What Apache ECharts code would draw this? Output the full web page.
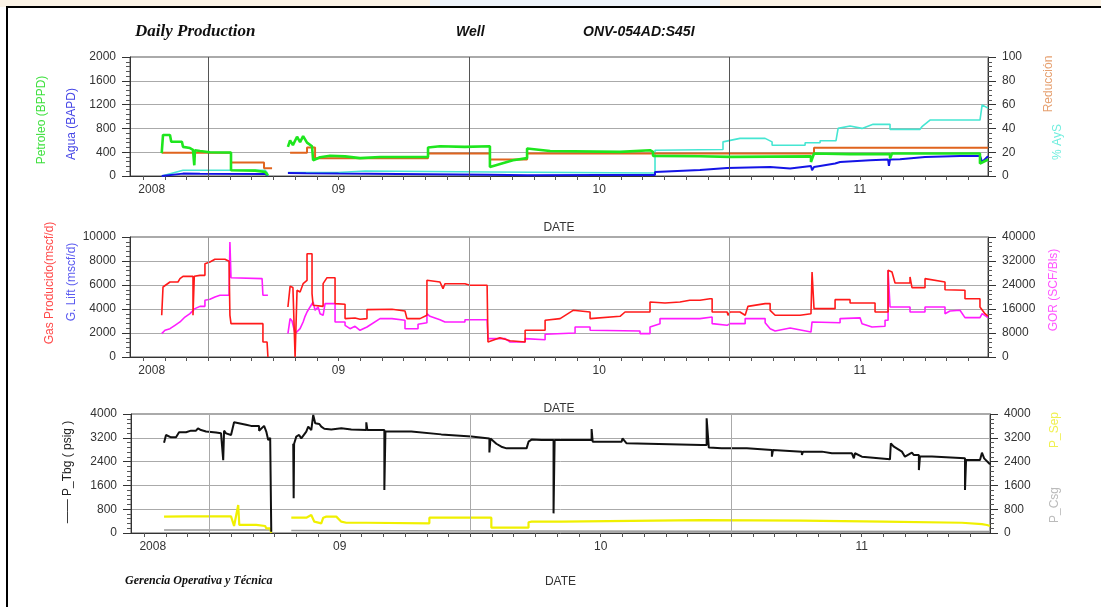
<!DOCTYPE html>
<html>
<head>
<meta charset="utf-8">
<title>Daily Production</title>
<script src="https://cdn.jsdelivr.net/npm/echarts@6/dist/echarts.min.js"></script>
<style>
  html, body { margin: 0; padding: 0; background: #fff; }
  #chart { width: 1101px; height: 607px; }
</style>
</head>
<body>
<div id="chart"></div>
<script>
// x = months counted from 1 Jan 2008
const xMin = 2.4, xMax = 41.9;
const monthTicks = [3,4,5,6,7,8,9,10,11,12,13,14,15,16,17,18,19,20,21,22,23,24,25,26,27,28,29,30,31,32,33,34,35,36,37,38,39,40,41];
const yearLabelAt = [3.4, 12, 24, 36];
const yearLabels = ['2008', '09', '10', '11'];
const midYear = [6, 18, 30];

// top panel
const petroleo = [[3.86,384],[3.92,690],[4.24,690],[4.30,575],[4.79,575],[4.84,490],[5.16,470],[5.30,440],[5.36,180],[5.39,434],[5.62,420],[6.08,400],[6.77,395],[7.05,395],[7.05,96],[8.16,90],[8.62,68],[8.71,68],[8.75,10],[9.3,'-'],
  [9.67,490],[9.77,600],[9.90,520],[10.09,660],[10.23,570],[10.37,670],[10.55,560],[10.78,500],[10.83,265],[11.15,315],[11.61,340],[12.30,330],[12.99,300],[13.91,320],[16.12,320],[16.12,480],[16.67,500],[17.82,490],[18.97,500],[18.97,152],[20.03,265],[20.68,300],[20.68,463],[21.74,420],[24.96,405],[26.34,434],[26.48,405],[26.48,338],[28.64,333],[30.02,321],[33.75,330],[33.75,236],[33.89,378],[35.55,367],[37.39,367],[37.39,294],[37.48,378],[41.53,378],[41.53,209],[41.90,277]];
const agua = [[3.86,0],[4.84,40],[5.62,37],[8.62,35],[8.71,30],[8.75,0],[9.3,'-'],
  [9.67,51],[10.5,45],[12.0,40],[16.12,30],[18.97,20],[20.68,12],[24.0,15],[26.57,15],[26.57,68],[28.64,100],[29.89,135],[31.87,152],[32.79,125],[33.75,169],[33.80,96],[33.89,150],[34.86,209],[35.09,236],[36.47,265],[37.30,277],[37.34,169],[37.39,277],[37.85,282],[39.00,321],[40.61,338],[41.53,338],[41.63,236],[41.90,333]];
const reduccion = [[3.86,19.5],[7.05,19.5],[7.05,11.3],[8.57,11.3],[8.57,6.5],[8.94,6.5],[9.3,'-'],
  [9.77,19.5],[10.55,19.5],[10.55,24],[10.92,24],[10.92,15],[16.12,15],[16.12,19],[18.97,19],[18.97,13.8],[20.68,13.8],[20.68,19],[33.89,19],[33.89,23.7],[41.90,23.7]];
const ays = [[3.86,0],[4.84,4.8],[8.62,4.8],[8.71,3],[8.75,0],[9.3,'-'],
  [9.67,2.9],[11.98,3],[11.98,4.2],[13.22,4.2],[13.31,2.9],[18.97,3.4],[18.97,2.5],[26.57,2.5],[26.57,21.7],[29.70,22.3],[29.70,28.7],[30.48,31.6],[31.64,31.6],[31.96,28.7],[31.96,25.9],[33.48,25.9],[33.48,27.9],[34.17,27.9],[34.17,29.6],[34.90,29.6],[35.00,40],[35.55,42],[36.10,40],[36.61,43.4],[37.39,43.4],[37.39,39.2],[38.77,39.2],[38.86,41.4],[39.23,47],[41.53,47],[41.63,59.7],[41.90,57]];

// middle panel
const gasProducido = [[3.86,3475],[3.92,5833],[4.24,6250],[4.61,6250],[4.70,6530],[4.84,6722],[5.30,6722],[5.30,3475],[5.36,6722],[5.62,6805],[5.85,6805],[5.85,7780],[6.08,7920],[6.31,8140],[6.77,8140],[6.96,7975],[7.00,7975],[7.00,3475],[7.05,2780],[8.52,2780],[8.52,1250],[8.71,1250],[8.75,0],[9.3,'-'],
  [9.67,4170],[9.77,5890],[9.90,5800],[10.00,0],[10.09,5560],[10.23,5420],[10.37,6110],[10.55,6390],[10.55,8610],[10.78,8610],[10.78,5280],[10.83,4310],[11.29,4220],[11.29,6110],[11.47,6610],[11.84,6610],[11.84,4450],[12.30,4390],[12.30,3200],[12.76,3250],[12.99,3140],[13.31,3200],[13.31,3950],[14.46,3975],[14.46,3835],[15.06,3835],[15.15,3200],[15.75,3200],[16.07,3475],[16.07,6390],[16.67,6250],[16.81,5700],[16.90,6110],[17.82,6110],[18.05,5975],[18.84,5975],[18.88,1250],[19.43,1600],[19.90,1350],[20.59,1250],[20.59,2225],[21.51,2225],[21.51,3060],[22.20,3200],[22.80,3890],[23.58,3750],[23.58,3200],[24.96,3390],[25.19,3750],[26.34,3750],[26.34,4580],[27.03,4500],[27.72,4580],[28.17,4725],[28.64,4725],[29.10,4860],[29.20,4860],[29.20,3750],[29.89,3750],[29.93,3475],[30.02,3750],[30.48,3750],[30.72,3475],[30.85,4220],[31.64,4450],[31.87,4450],[31.87,3890],[32.10,3475],[33.25,3475],[33.25,3610],[33.75,3610],[33.80,7080],[33.89,4030],[34.86,4030],[34.86,4780],[35.55,4780],[35.55,4500],[36.70,4500],[36.70,3750],[37.30,3750],[37.30,7225],[37.48,7080],[37.62,6170],[38.31,6170],[38.31,6670],[38.40,6670],[38.40,5780],[39.00,5780],[39.00,6530],[39.92,6250],[39.92,5610],[40.84,5560],[40.84,4860],[41.53,4860],[41.53,4170],[41.76,3610],[41.90,3400]];
const gor = [[3.86,7800],[4.01,8900],[4.24,9440],[4.47,10560],[4.70,11680],[4.93,13320],[5.16,14440],[5.39,16120],[5.62,16880],[5.85,16880],[5.85,18900],[6.08,19240],[6.31,20000],[6.54,20560],[6.96,20560],[7.00,38320],[7.05,26440],[8.48,26120],[8.52,20560],[8.75,20560],[9.3,'-'],
  [9.67,7800],[9.77,12800],[9.86,12000],[10.00,7800],[10.09,8320],[10.23,9440],[10.37,11680],[10.46,13560],[10.55,15000],[10.69,16680],[10.83,18320],[10.92,15560],[11.06,16680],[11.15,14440],[11.29,13900],[11.38,17800],[11.84,17800],[11.84,11680],[12.30,11680],[12.30,10560],[12.53,9440],[12.76,10240],[12.99,8900],[13.31,10000],[13.91,12800],[14.46,12800],[14.46,12240],[15.06,12240],[15.06,9440],[15.66,9440],[15.66,10900],[16.07,11400],[16.07,14440],[16.21,13560],[16.67,12440],[16.90,11680],[17.82,11680],[17.82,12440],[18.84,12440],[18.88,6120],[19.67,6120],[19.67,6680],[19.90,5000],[20.59,5000],[20.59,6120],[21.51,5760],[21.51,7560],[22.89,8000],[22.89,10000],[23.58,10000],[23.58,8900],[25.88,8680],[25.88,7800],[26.34,7800],[26.34,10000],[26.80,11120],[26.80,12800],[28.64,12800],[28.64,13320],[29.20,13320],[29.20,11120],[29.89,10560],[29.93,10000],[30.02,11120],[30.72,11120],[30.72,12800],[31.64,12800],[31.64,11440],[31.87,9440],[32.10,8680],[32.79,9680],[33.75,8320],[33.80,11680],[35.09,11440],[35.09,12800],[36.01,13040],[36.10,11120],[36.56,10000],[37.16,10240],[37.16,12240],[37.30,12240],[37.30,28900],[37.39,16680],[38.31,16680],[38.31,15000],[39.00,15000],[39.00,16680],[39.92,16680],[39.92,14440],[40.15,15320],[40.61,15560],[40.84,13120],[41.53,13120],[41.63,14440],[41.90,13120]];

// bottom panel
const pTbg = [[3.92,3035],[4.01,3295],[4.24,3215],[4.47,3215],[4.61,3385],[4.93,3385],[5.16,3440],[5.39,3440],[5.48,3520],[5.62,3460],[5.85,3410],[6.31,3375],[6.54,3350],[6.64,2450],[6.68,3440],[6.77,3350],[7.00,3295],[7.14,3720],[7.69,3640],[7.92,3600],[8.29,3600],[8.29,3440],[8.52,3600],[8.62,3410],[8.71,3125],[8.80,3200],[8.85,40],[9.3,'-'],
  [9.86,3000],[9.88,1165],[9.90,3000],[10.00,3240],[10.13,3295],[10.23,3180],[10.32,3145],[10.46,3410],[10.55,3575],[10.69,3460],[10.78,3970],[10.87,3690],[11.06,3665],[11.15,3575],[11.29,3505],[11.61,3480],[12.07,3520],[12.53,3480],[13.22,3460],[13.22,3720],[13.27,3460],[14.05,3460],[14.05,1445],[14.10,3410],[15.29,3410],[16.67,3315],[18.05,3240],[18.88,3180],[18.88,2710],[18.93,3180],[18.97,3125],[19.20,3000],[19.43,2900],[19.67,2845],[20.59,2845],[20.68,3070],[20.82,3140],[21.28,3125],[21.83,3125],[21.83,660],[21.88,3125],[23.58,3125],[23.58,3495],[23.63,3070],[24.96,3070],[25.0,3180],[25.19,3015],[28.64,2960],[28.87,2960],[28.87,3855],[28.97,2870],[29.56,2845],[30.72,2845],[31.87,2790],[31.87,2565],[31.92,2790],[33.25,2735],[33.25,2620],[33.30,2735],[34.17,2735],[34.63,2680],[35.55,2680],[35.64,2510],[35.69,2680],[36.01,2565],[37.30,2475],[37.34,3015],[37.48,2900],[37.85,2735],[37.99,2565],[38.31,2700],[38.40,2620],[38.63,2620],[38.63,2115],[38.68,2575],[39.23,2575],[39.23,2510],[40.75,2510],[40.75,1445],[40.80,2455],[41.44,2455],[41.53,2700],[41.63,2510],[41.90,2310]];
const pSep = [[3.92,550],[4.93,560],[7.00,560],[7.14,235],[7.23,215],[7.33,940],[7.38,270],[8.16,270],[8.57,235],[8.62,155],[8.80,155],[8.85,0],[9.3,'-'],
  [9.77,515],[10.46,515],[10.69,605],[10.78,600],[10.83,380],[10.92,325],[11.15,325],[11.24,515],[11.38,550],[11.84,550],[12.07,380],[12.30,345],[13.22,345],[13.31,325],[16.12,325],[16.12,515],[18.97,515],[18.97,180],[20.68,180],[20.68,360],[20.82,380],[22.20,380],[22.20,435],[28.64,430],[33.25,415],[33.25,380],[37.0,380],[37.0,345],[40.61,345],[41.53,300],[41.76,270],[41.90,235]];
const pCsg = [[3.92,100],[8.80,100],[8.85,0],[9.3,'-'],[9.77,80],[20.0,70],[30.0,60],[41.90,50]];

const chart = echarts.init(document.getElementById('chart'));
const FONT = '"Liberation Sans", Arial, sans-serif';

function xAxisFor(gi, gap) {
  return {
    type: 'value', gridIndex: gi, min: xMin, max: xMax,
    name: 'DATE', nameLocation: 'middle', nameGap: gap,
    nameTextStyle: { fontSize: 12, color: '#333', fontFamily: FONT },
    axisLine: { lineStyle: { color: '#333' } },
    axisTick: { customValues: monthTicks, length: 4, lineStyle: { color: '#555' } },
    axisLabel: {
      customValues: yearLabelAt, fontSize: 12, color: '#333', fontFamily: FONT, margin: 8,
      formatter: v => {
        let best = 0;
        yearLabelAt.forEach((p, i) => { if (Math.abs(p - v) < Math.abs(yearLabelAt[best] - v)) best = i; });
        return yearLabels[best];
      }
    },
    splitLine: { show: false }
  };
}

function yAxisFor(gi, pos, max, interval, split) {
  return {
    type: 'value', gridIndex: gi, position: pos, min: 0, max: max, interval: interval,
    axisLine: { show: true, lineStyle: { color: '#333' } },
    axisTick: { show: true, length: 8, lineStyle: { color: '#333' } },
    minorTick: { show: true, splitNumber: 5, length: 4, lineStyle: { color: '#555' } },
    axisLabel: { fontSize: 12, color: '#333', fontFamily: FONT, margin: 14, formatter: v => String(v) },
    splitLine: { show: split, lineStyle: { color: '#aaa', width: 1 } },
    minorSplitLine: { show: false }
  };
}

function line(name, data, color, width, xi, yi, z) {
  return {
    type: 'line', name: name, data: data, xAxisIndex: xi, yAxisIndex: yi,
    showSymbol: false, symbol: 'none', connectNulls: false, animation: false, z: z || 2,
    lineStyle: { color: color, width: width }, itemStyle: { color: color }
  };
}

function midLines(color) {
  return {
    silent: true, symbol: 'none', label: { show: false },
    lineStyle: { color: color, width: 1, type: 'solid' },
    data: midYear.map(v => ({ xAxis: v }))
  };
}

function vText(text, x, y, color, size) {
  return {
    type: 'text', x: x, y: y, rotation: Math.PI / 2,
    style: { text: text, fill: color, fontSize: size || 12, fontFamily: FONT, align: 'center', verticalAlign: 'middle' }
  };
}

const sCyan = line('%AyS', ays, '#45e6d2', 1.6, 0, 1, 2);
sCyan.markLine = midLines('#555');
const sGor = line('GOR', gor, '#ff1cff', 1.6, 1, 3, 2);
sGor.markLine = midLines('#999');
const sCsg = line('P_Csg', pCsg, '#999', 1.5, 2, 5, 2);
sCsg.markLine = midLines('#aaa');

const option = {
  backgroundColor: '#fff',
  animation: false,
  grid: [
    { left: 130, right: 113, top: 57, height: 119, show: true, borderColor: '#555', borderWidth: 1, outerBoundsMode: 'none' },
    { left: 130, right: 113, top: 237, height: 120, show: true, borderColor: '#555', borderWidth: 1, outerBoundsMode: 'none' },
    { left: 131, right: 111, top: 414, height: 119, show: true, borderColor: '#555', borderWidth: 1, outerBoundsMode: 'none' }
  ],
  xAxis: [xAxisFor(0, 46), xAxisFor(1, 46), xAxisFor(2, 43)],
  yAxis: [
    yAxisFor(0, 'left', 2000, 400, true),
    yAxisFor(0, 'right', 100, 20, false),
    yAxisFor(1, 'left', 10000, 2000, true),
    yAxisFor(1, 'right', 40000, 8000, false),
    yAxisFor(2, 'left', 4000, 800, true),
    yAxisFor(2, 'right', 4000, 800, false)
  ],
  series: [
    sCyan,
    line('Agua (BAPD)', agua, '#1414e6', 2, 0, 0, 3),
    line('Reducción', reduccion, '#e0641e', 2, 0, 1, 4),
    line('Petroleo (BPPD)', petroleo, '#1ee61e', 2.6, 0, 0, 5),
    sGor,
    line('Gas Producido', gasProducido, '#ff1a1a', 1.6, 1, 2, 3),
    sCsg,
    line('P_Sep', pSep, '#f0f000', 2.2, 2, 5, 3),
    line('P_Tbg', pTbg, '#111', 2, 2, 4, 4)
  ],
  graphic: [
    { type: 'rect', shape: { x: 0, y: 0, width: 1101, height: 7 }, style: { fill: '#fbf3e6' }, z: 0 },
    { type: 'rect', shape: { x: 430, y: 0, width: 290, height: 7 }, style: { fill: '#eef4fa' }, z: 0 },
    { type: 'rect', shape: { x: 7, y: 7, width: 1120, height: 620 }, style: { fill: 'none', stroke: '#000', lineWidth: 2 }, z: 10 },
    { type: 'text', x: 135, y: 32, style: { text: 'Daily Production', fill: '#111', font: 'italic bold 17px "Liberation Serif", serif', verticalAlign: 'middle' } },
    { type: 'text', x: 456, y: 32, style: { text: 'Well', fill: '#111', font: 'italic bold 14px "Liberation Sans", sans-serif', verticalAlign: 'middle' } },
    { type: 'text', x: 583, y: 32, style: { text: 'ONV-054AD:S45I', fill: '#111', font: 'italic bold 14px "Liberation Sans", sans-serif', verticalAlign: 'middle' } },
    { type: 'text', x: 125, y: 581, style: { text: 'Gerencia Operativa y Técnica', fill: '#111', font: 'italic bold 12px "Liberation Serif", serif', verticalAlign: 'middle' } },
    vText('Petroleo (BPPD)', 42, 120, '#3ee03e'),
    vText('Agua (BAPD)', 72, 124, '#4646e6'),
    vText('Reducción', 1049, 84, '#e6a070'),
    vText('% AyS', 1058, 142, '#70eede'),
    vText('Gas Producido(mscf/d)', 50, 283, '#ff4a4a'),
    vText('G. Lift (mscf/d)', 72, 282, '#5a5af0'),
    vText('GOR (SCF/Bls)', 1054, 290, '#ff55ff'),
    vText('—— P_Tbg ( psig )', 68, 472, '#222'),
    vText('P_Sep', 1055, 430, '#f0f050'),
    vText('P_Csg', 1055, 505, '#bbb')
  ]
};

chart.setOption(option);
</script>
</body>
</html>
